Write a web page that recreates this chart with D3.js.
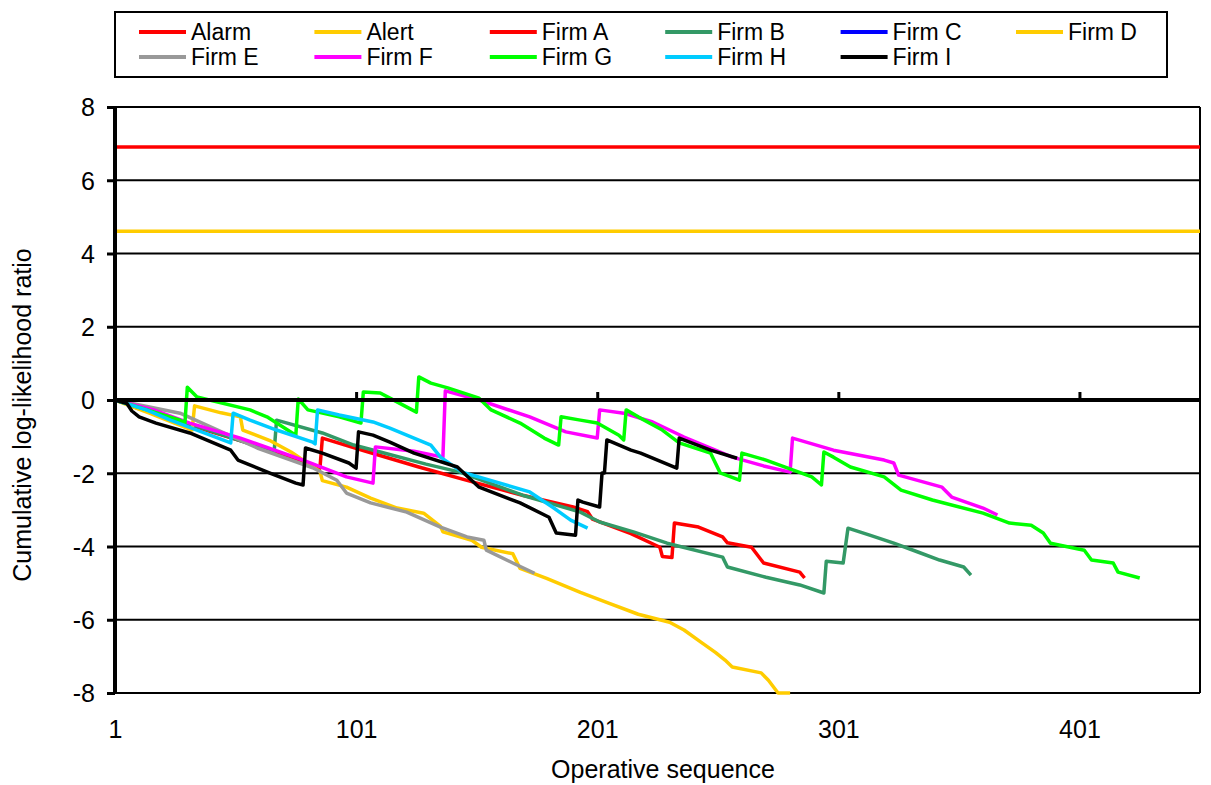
<!DOCTYPE html>
<html>
<head>
<meta charset="utf-8">
<script src="https://cdn.jsdelivr.net/npm/d3@7"></script>
<style>
  html, body { margin: 0; padding: 0; background: #fff; }
  svg { display: block; font-family: "Liberation Sans", Arial, sans-serif; }
</style>
</head>
<body>
<svg id="chart" width="1211" height="785"></svg>
<script>
// Thresholds (horizontal reference lines)
const alarmLevel = 6.91;
const alertLevel = 4.61;

// Tick labels
const yTicks = [-8, -6, -4, -2, 0, 2, 4, 6, 8];
const xTicks = [1, 101, 201, 301, 401];
const xDomain = [1, 451];

// Cumulative log-likelihood ratio per firm: [operative sequence, value]
const firmA = [[1,0],[15,-0.3],[40,-0.85],[65,-1.35],[86,-1.86],[87,-1.04],[105,-1.4],[127,-1.83],[150,-2.25],[170,-2.6],[191,-2.92],[197,-3.05],[199,-3.25],[215,-3.65],[227,-4.02],[228,-4.27],[232,-4.3],[233,-3.36],[243,-3.47],[253,-3.74],[255,-3.9],[265,-4.02],[270,-4.45],[285,-4.7],[287,-4.86]];
const firmB = [[1,0],[25,-0.5],[50,-1.05],[67,-1.42],[68,-0.55],[87,-0.9],[100,-1.23],[111,-1.42],[130,-1.75],[144,-1.97],[170,-2.6],[194,-3.06],[202,-3.33],[216,-3.6],[230,-3.91],[253,-4.29],[255,-4.56],[271,-4.84],[285,-5.05],[295,-5.27],[296,-4.4],[303,-4.45],[305,-3.5],[314,-3.69],[324,-3.91],[334,-4.15],[343,-4.37],[353,-4.56],[356,-4.78]];
const firmC = [[1,0],[4,-0.06],[8,-0.16],[11,-0.24]];
const firmD = [[1,0],[15,-0.35],[33,-0.82],[34,-0.16],[45,-0.35],[53,-0.46],[54,-0.82],[65,-1.1],[74,-1.42],[86,-1.95],[87,-2.2],[97,-2.38],[107,-2.68],[118,-2.95],[129,-3.09],[136,-3.45],[137,-3.6],[149,-3.83],[153,-4.02],[166,-4.2],[169,-4.6],[180,-4.87],[194,-5.25],[206,-5.55],[218,-5.85],[231,-6.07],[237,-6.28],[244,-6.61],[250,-6.89],[254,-7.1],[257,-7.29],[269,-7.45],[272,-7.65],[276,-8.0],[281,-8.0]];
const firmE = [[1,0],[28,-0.36],[60,-1.31],[83,-1.85],[93,-2.19],[97,-2.54],[107,-2.81],[122,-3.06],[136,-3.47],[147,-3.74],[154,-3.83],[155,-4.1],[166,-4.45],[175,-4.73]];
const firmF = [[1,0],[17,-0.27],[32,-0.63],[53,-1.04],[79,-1.64],[97,-2.1],[108,-2.27],[109,-1.28],[125,-1.4],[137,-1.56],[138,0.25],[152,0.0],[173,-0.46],[188,-0.87],[201,-1.04],[202,-0.27],[212,-0.36],[224,-0.6],[237,-1.01],[257,-1.56],[270,-1.8],[281,-1.97],[282,-1.04],[299,-1.37],[320,-1.64],[324,-1.72],[326,-2.05],[344,-2.38],[348,-2.65],[361,-2.95],[367,-3.14]];
const firmG = [[1,0],[28,-0.55],[30,-0.63],[31,0.35],[35,0.08],[57,-0.27],[64,-0.46],[76,-0.96],[77,0.03],[81,-0.27],[94,-0.46],[103,-0.63],[104,0.22],[111,0.19],[115,0.05],[126,-0.33],[127,0.63],[132,0.46],[139,0.33],[152,0.05],[157,-0.27],[169,-0.63],[179,-1.04],[185,-1.23],[186,-0.46],[194,-0.55],[201,-0.63],[210,-0.96],[212,-1.09],[213,-0.27],[218,-0.46],[228,-0.82],[235,-1.17],[248,-1.45],[252,-1.99],[260,-2.19],[261,-1.45],[271,-1.64],[290,-2.1],[294,-2.32],[295,-1.42],[299,-1.56],[306,-1.83],[320,-2.1],[327,-2.46],[340,-2.73],[361,-3.09],[372,-3.36],[381,-3.42],[386,-3.63],[389,-3.91],[403,-4.1],[406,-4.37],[415,-4.45],[417,-4.7],[426,-4.86]];
const firmH = [[1,0],[14,-0.27],[24,-0.55],[49,-1.17],[50,-0.36],[57,-0.55],[68,-0.82],[83,-1.15],[84,-1.2],[85,-0.27],[94,-0.41],[108,-0.6],[115,-0.77],[132,-1.23],[136,-1.56],[145,-1.97],[173,-2.51],[183,-2.95],[190,-3.28],[197,-3.5]];
const firmI = [[1,0],[6,-0.1],[8,-0.3],[11,-0.46],[18,-0.63],[32,-0.9],[49,-1.37],[52,-1.64],[65,-1.99],[76,-2.27],[79,-2.32],[80,-1.31],[87,-1.45],[98,-1.72],[101,-1.86],[102,-0.87],[108,-0.96],[115,-1.15],[125,-1.45],[143,-1.83],[152,-2.38],[169,-2.81],[181,-3.2],[184,-3.63],[192,-3.69],[193,-2.73],[195,-2.79],[202,-2.92],[203,-1.99],[204,-1.99],[205,-1.09],[215,-1.37],[219,-1.45],[234,-1.86],[235,-1.04],[248,-1.37],[259,-1.59]];

const seriesNames = ["Firm A","Firm B","Firm C","Firm D","Firm E","Firm F","Firm G","Firm H","Firm I"];
const seriesData = [firmA, firmB, firmC, firmD, firmE, firmF, firmG, firmH, firmI];
const seriesColors = ["#FF0000","#339966","#0000FF","#FFCC00","#999999","#FF00FF","#00FF00","#00CCFF","#000000"];
const legendNames = ["Alarm","Alert"].concat(seriesNames);
const legendColors = ["#FF0000","#FFCC00"].concat(seriesColors);

const svg = d3.select("#chart");
const plot = { left: 115, right: 1200, top: 107, bottom: 693 };

const x = d3.scaleLinear().domain(xDomain).range([plot.left, plot.right]);
const y = d3.scaleLinear().domain([-8, 8]).range([plot.bottom, plot.top]);

// Horizontal gridlines
svg.append("g")
  .selectAll("line")
  .data(yTicks.filter(d => d !== 0))
  .join("line")
  .attr("x1", plot.left).attr("x2", plot.right)
  .attr("y1", d => y(d)).attr("y2", d => y(d))
  .attr("stroke", "#000").attr("stroke-width", 2);

// Right border of the plot area
svg.append("line")
  .attr("x1", plot.right).attr("x2", plot.right)
  .attr("y1", plot.top).attr("y2", plot.bottom)
  .attr("stroke", "#000").attr("stroke-width", 2);

// Alarm and alert thresholds
svg.append("line")
  .attr("x1", plot.left).attr("x2", plot.right)
  .attr("y1", y(alarmLevel)).attr("y2", y(alarmLevel))
  .attr("stroke", legendColors[0]).attr("stroke-width", 3.5);
svg.append("line")
  .attr("x1", plot.left).attr("x2", plot.right)
  .attr("y1", y(alertLevel)).attr("y2", y(alertLevel))
  .attr("stroke", legendColors[1]).attr("stroke-width", 3.5);

// Firm curves
const line = d3.line().x(d => x(d[0])).y(d => y(d[1]));
svg.append("g")
  .selectAll("path")
  .data(seriesData)
  .join("path")
  .attr("d", line)
  .attr("fill", "none")
  .attr("stroke", (d, i) => seriesColors[i])
  .attr("stroke-width", 3.5)
  .attr("stroke-linejoin", "round");

// Horizontal axis line at zero with upward ticks
const xAxisTop = svg.append("g")
  .attr("transform", `translate(0,${y(0)})`)
  .call(d3.axisTop(x).tickValues(xTicks.slice(1)).tickSize(8).tickFormat(""));
xAxisTop.select(".domain").remove();
xAxisTop.selectAll(".tick line").attr("stroke", "#000").attr("stroke-width", 3);
svg.append("line")
  .attr("x1", plot.left).attr("x2", plot.right)
  .attr("y1", y(0)).attr("y2", y(0))
  .attr("stroke", "#000").attr("stroke-width", 4);

// Category labels along the bottom
const xLabels = svg.append("g")
  .attr("transform", `translate(0,${plot.bottom + 27})`)
  .call(d3.axisBottom(x).tickValues(xTicks).tickSize(0).tickPadding(0).tickFormat(d => String(d)));
xLabels.select(".domain").remove();
xLabels.selectAll("text").attr("font-size", 25).attr("font-family", "Liberation Sans, Arial, sans-serif").attr("fill", "#000");

// Vertical axis
const yAxis = svg.append("g")
  .attr("transform", `translate(${plot.left},0)`)
  .call(d3.axisLeft(y).tickValues(yTicks).tickSize(8).tickPadding(12).tickFormat(d => String(d)));
yAxis.select(".domain").attr("stroke", "#000").attr("stroke-width", 4)
  .attr("d", `M0,${plot.top - 1}V${plot.bottom + 1}`);
yAxis.selectAll(".tick line").attr("stroke", "#000").attr("stroke-width", 3);
yAxis.selectAll("text").attr("font-size", 25).attr("font-family", "Liberation Sans, Arial, sans-serif").attr("fill", "#000").attr("dy", "0.35em");

// Axis titles
svg.append("text")
  .attr("x", 663).attr("y", 778)
  .attr("text-anchor", "middle")
  .attr("font-size", 25)
  .text("Operative sequence");
svg.append("text")
  .attr("transform", "translate(31,415) rotate(-90)")
  .attr("text-anchor", "middle")
  .attr("font-size", 25)
  .text("Cumulative log-likelihood ratio");

// Legend
const legend = svg.append("g");
legend.append("rect")
  .attr("x", 115).attr("y", 12).attr("width", 1052).attr("height", 65)
  .attr("fill", "#fff").attr("stroke", "#000").attr("stroke-width", 2);
const items = legend.selectAll("g.item")
  .data(legendNames)
  .join("g")
  .attr("class", "item")
  .attr("transform", (d, i) => `translate(${139 + (i % 6) * 175.4},${i < 6 ? 32 : 57})`);
items.append("line")
  .attr("x1", 0).attr("x2", 47).attr("y1", 0).attr("y2", 0)
  .attr("stroke", (d, i) => legendColors[i]).attr("stroke-width", 4);
items.append("text")
  .attr("x", 52).attr("y", 0).attr("dy", "0.35em")
  .attr("font-size", 23)
  .text(d => d);
</script>
</body>
</html>
